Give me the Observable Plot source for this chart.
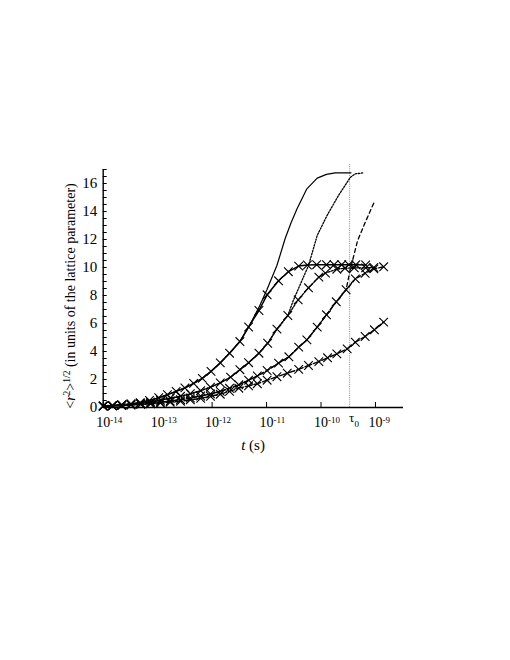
<!DOCTYPE html>
<html><head><meta charset="utf-8">
<script src="https://cdn.jsdelivr.net/npm/d3@7"></script>
<script src="https://cdn.jsdelivr.net/npm/@observablehq/plot@0.6"></script>
<style>body{margin:0;background:#fff;} svg{display:block;} svg, svg text {font-family: "Liberation Serif", "Times New Roman", Times, serif !important;}</style>
</head><body><div id="chart"></div>
<script>
// time is stored as log10(t / s)
const aLogT = [-14.00,-13.83,-13.66,-13.49,-13.32,-13.15,-12.98,-12.82,-12.66,-12.50,-12.34,-12.18,-12.02,-11.85,-11.68,-11.49,-11.33,-11.14,-10.99,-10.78,-10.60,-10.41,-10.25,-10.08,-9.90,-9.76,-9.62,-9.49,-9.36,-9.18];
const aR    = [0.10,0.12,0.18,0.25,0.35,0.50,0.70,0.92,1.15,1.40,1.72,2.08,2.58,3.19,3.88,4.71,5.75,6.93,8.05,9.05,9.70,10.10,10.18,10.20,10.20,10.20,10.20,10.20,10.20,10.18];

const bLogT = [-14.00,-13.83,-13.66,-13.49,-13.32,-13.13,-12.95,-12.77,-12.58,-12.40,-12.21,-12.03,-11.85,-11.66,-11.49,-11.33,-11.14,-10.98,-10.81,-10.61,-10.42,-10.23,-10.04,-9.92,-9.71,-9.56,-9.39,-9.18,-9.03];
const bR    = [0.12,0.15,0.20,0.25,0.30,0.38,0.52,0.66,0.80,0.98,1.20,1.45,1.76,2.17,2.70,3.20,3.88,4.59,5.60,6.57,7.69,8.55,9.31,9.60,9.88,9.95,9.97,9.97,10.00];

const cLogT = [-14.00,-13.83,-13.66,-13.49,-13.31,-13.13,-12.95,-12.77,-12.58,-12.40,-12.21,-12.03,-11.85,-11.68,-11.51,-11.33,-11.17,-10.99,-10.78,-10.59,-10.41,-10.26,-10.07,-9.90,-9.72,-9.54,-9.37,-9.19,-9.03,-8.85];
const cR    = [0.10,0.12,0.15,0.20,0.25,0.30,0.38,0.46,0.56,0.68,0.82,0.97,1.15,1.37,1.62,1.95,2.25,2.64,3.17,3.62,4.31,4.83,5.74,6.62,7.55,8.41,9.19,9.59,9.90,10.05];

const dLogT = [-14.00,-13.83,-13.66,-13.49,-13.31,-13.13,-12.95,-12.77,-12.58,-12.40,-12.21,-12.03,-11.85,-11.68,-11.51,-11.33,-11.17,-10.99,-10.81,-10.62,-10.41,-10.23,-10.04,-9.88,-9.71,-9.52,-9.37,-9.19,-9.02,-8.85];
const dR    = [0.10,0.12,0.14,0.18,0.22,0.26,0.32,0.38,0.45,0.55,0.65,0.80,0.95,1.15,1.38,1.55,1.70,1.95,2.20,2.45,2.72,3.00,3.28,3.55,3.83,4.19,4.66,5.07,5.55,6.10];

// unmarked continuations (after they leave the marked curves)
const solidLogT  = [-11.14,-10.99,-10.81,-10.66,-10.55,-10.44,-10.26,-10.07,-9.90,-9.74,-9.45];
const solidR     = [7.15,8.45,10.14,12.05,13.20,14.19,15.62,16.38,16.65,16.76,16.76];
const dottedLogT = [-10.51,-10.23,-10.07,-9.89,-9.68,-9.46,-9.37,-9.22];
const dottedR    = [7.64,10.14,12.29,13.71,15.14,16.45,16.69,16.76];
const dashedLogT = [-9.46,-9.33,-9.18,-9.02];
const dashedR    = [9.90,11.90,13.30,14.70];

const xDomain = [1e-14, 3.27e-9];
const yDomain = [0, 17];
const xTickExp = [-14, -13, -12, -11, -10, -9];
const yTickLabels = [0, 2, 4, 6, 8, 10, 12, 14, 16];
const yTickMarks = d3.range(0, 17.01, 0.5);
const tau0 = 3.35e-10;

const rows = (lt, r, from = 0, to = lt.length) =>
  lt.slice(from, to).map((e, i) => ({t: 10 ** e, r: r.slice(from, to)[i]}));

const A = rows(aLogT, aR), B = rows(bLogT, bR), C = rows(cLogT, cR), D = rows(dLogT, dR);
const solidPath  = rows(aLogT, aR, 0, aLogT.indexOf(-11.33) + 1).concat(rows(solidLogT, solidR));
const dottedPath = rows(bLogT, bR, 0, bLogT.indexOf(-10.61) + 1).concat(rows(dottedLogT, dottedR));
const dashedPath = rows(cLogT, cR, 0, cLogT.indexOf(-9.54) + 1).concat(rows(dashedLogT, dashedR));
const xTicks = xTickExp.map(e => ({t: 10 ** e, e}));

const serif = "Liberation Serif, Times New Roman, serif";
const chart = Plot.plot({
  width: 510, height: 660,
  marginLeft: 102.7, marginRight: 107, marginTop: 169, marginBottom: 253,
  x: {type: "log", domain: xDomain, axis: null},
  y: {domain: yDomain, axis: null},
  style: {fontFamily: serif, background: "white", color: "black"},
  marks: [
    Plot.ruleX([tau0], {y1: 0, y2: 17.35, stroke: "#999", strokeWidth: 1, strokeDasharray: "1.2,1"}),
    Plot.line(solidPath,  {x: "t", y: "r", stroke: "black", strokeWidth: 1.2}),
    Plot.line(dottedPath, {x: "t", y: "r", stroke: "black", strokeWidth: 1.3, strokeDasharray: "1.5,1.5"}),
    Plot.line(dashedPath, {x: "t", y: "r", stroke: "black", strokeWidth: 1.3, strokeDasharray: "4,3"}),
    Plot.line(A, {x: "t", y: "r", stroke: "black", strokeWidth: 1.5}),
    Plot.line(B, {x: "t", y: "r", stroke: "black", strokeWidth: 1.4, strokeDasharray: "2,1.5"}),
    Plot.line(C, {x: "t", y: "r", stroke: "black", strokeWidth: 1.4, strokeDasharray: "4,2"}),
    Plot.line(D, {x: "t", y: "r", stroke: "black", strokeWidth: 1.4, strokeDasharray: "7,2"}),
    Plot.dot(A.concat(B, C, D), {x: "t", y: "r", symbol: "times", r: 4, stroke: "black", strokeWidth: 1.1}),
    Plot.ruleY([0], {stroke: "black", strokeWidth: 1.4}),
    Plot.ruleX([xDomain[0]], {stroke: "black", strokeWidth: 1.4}),
    Plot.axisY(yTickMarks, {anchor: "left", tickSize: 4, dx: 4, tickFormat: () => "", label: null}),
    Plot.axisY(yTickLabels, {anchor: "left", tickSize: 0, tickPadding: 6, fontSize: 15, label: null}),
    Plot.axisX(xTicks.map(d => d.t), {anchor: "bottom", tickSize: 5, dy: -5, tickFormat: () => "", label: null}),
    Plot.text(xTicks, {x: "t", frameAnchor: "bottom", text: () => "10", fontSize: 14, dy: 19}),
    Plot.text(xTicks, {x: "t", frameAnchor: "bottom", text: d => String(d.e), fontSize: 9, textAnchor: "start", dx: 7, dy: 15}),
    Plot.text([tau0], {x: d => d, frameAnchor: "bottom", text: () => "τ", fontSize: 13, textAnchor: "start", dx: -0.5, dy: 14}),
    Plot.text([tau0], {x: d => d, frameAnchor: "bottom", text: () => "0", fontSize: 9, textAnchor: "start", dx: 5, dy: 19.5})
  ]
});
document.getElementById("chart").append(chart);

const svg = d3.select(chart);
const yt = svg.append("text")
  .attr("transform", "translate(70,296) rotate(-90)")
  .attr("text-anchor", "middle").attr("font-family", serif).attr("font-size", 14)
  .attr("fill", "black").attr("dy", "0.35em");
yt.append("tspan").text("<");
yt.append("tspan").attr("font-style", "italic").text("r");
yt.append("tspan").attr("font-size", 9.5).attr("dy", -5).text("2");
yt.append("tspan").attr("dy", 5).text(">");
yt.append("tspan").attr("font-size", 9.5).attr("dy", -5).text("1/2");
yt.append("tspan").attr("dy", 5).text(" (in units of the lattice parameter)");

const xt = svg.append("text")
  .attr("x", 253).attr("y", 450)
  .attr("text-anchor", "middle").attr("font-family", serif).attr("font-size", 15)
  .attr("fill", "black");
xt.append("tspan").attr("font-style", "italic").text("t");
xt.append("tspan").text(" (s)");
</script></body></html>
